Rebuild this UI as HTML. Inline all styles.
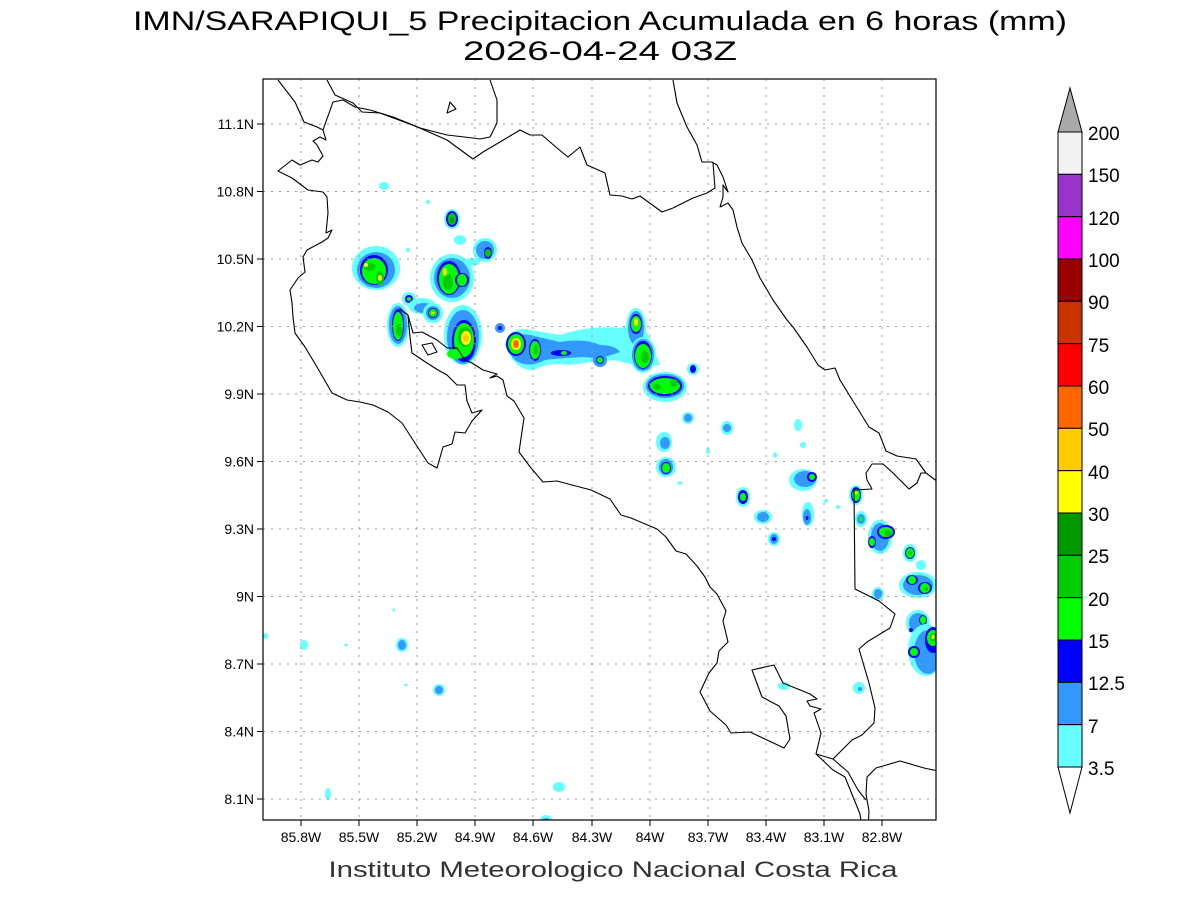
<!DOCTYPE html>
<html><head><meta charset="utf-8"><style>
html,body{margin:0;padding:0;background:#fff;}
svg{display:block;font-family:"Liberation Sans",sans-serif;}
</style></head><body>
<svg width="1200" height="900" viewBox="0 0 1200 900" xmlns="http://www.w3.org/2000/svg">
<rect width="1200" height="900" fill="#fff"/>
<text x="600" y="30" font-size="27" text-anchor="middle" textLength="934" lengthAdjust="spacingAndGlyphs">IMN/SARAPIQUI_5 Precipitacion Acumulada en 6 horas (mm)</text>
<text x="600" y="60" font-size="27" text-anchor="middle" textLength="274" lengthAdjust="spacingAndGlyphs">2026-04-24 03Z</text>
<defs><clipPath id="c"><rect x="263" y="79" width="673" height="741"/></clipPath></defs>
<g clip-path="url(#c)">
<!-- precipitation -->
<g>
<!-- cluster 1 -->
<ellipse cx="376" cy="268" rx="24" ry="22" fill="#66ffff"/>
<ellipse cx="376" cy="270" rx="19" ry="18" fill="#3399ff"/>
<ellipse cx="374" cy="270" rx="14" ry="15" fill="#0000ff"/>
<ellipse cx="374" cy="271" rx="12" ry="13" fill="#00ff00"/>
<ellipse cx="370" cy="267" rx="6" ry="4" fill="#00cc00"/>
<ellipse cx="380" cy="278" rx="4" ry="7" fill="#00cc00"/>
<ellipse cx="366" cy="265" rx="2" ry="2" fill="#ffff00"/>
<ellipse cx="380" cy="278" rx="2" ry="3" fill="#ffff00"/>
<ellipse cx="384" cy="186" rx="5" ry="4" fill="#66ffff"/>
<ellipse cx="428" cy="202" rx="2" ry="2" fill="#66ffff"/>
<ellipse cx="452" cy="219" rx="8" ry="10" fill="#66ffff"/><ellipse cx="452" cy="219" rx="6" ry="8" fill="#0000ff"/><ellipse cx="452" cy="219" rx="4" ry="6" fill="#00cc00"/><ellipse cx="452" cy="220" rx="2" ry="3" fill="#009900"/>
<ellipse cx="460" cy="240" rx="6" ry="5" fill="#66ffff"/>
<ellipse cx="408" cy="250" rx="2" ry="2" fill="#66ffff"/>
<ellipse cx="485" cy="250" rx="12" ry="12" fill="#66ffff"/><ellipse cx="485" cy="250" rx="9" ry="9" fill="#3399ff"/><ellipse cx="488" cy="253" rx="4" ry="6" fill="#0000ff"/><ellipse cx="488" cy="253" rx="3" ry="4" fill="#00cc00"/>
<ellipse cx="472" cy="262" rx="8" ry="4" fill="#66ffff"/>
<!-- cluster 8 -->
<ellipse cx="452" cy="278" rx="22" ry="24" fill="#66ffff"/>
<ellipse cx="452" cy="278" rx="18" ry="20" fill="#3399ff"/>
<ellipse cx="449" cy="278" rx="12" ry="17" fill="#0000ff"/>
<ellipse cx="449" cy="279" rx="10" ry="15" fill="#00ff00"/>
<ellipse cx="462" cy="280" rx="7" ry="7" fill="#0000ff"/><ellipse cx="462" cy="280" rx="5" ry="6" fill="#00ff00"/>
<ellipse cx="448" cy="282" rx="5" ry="8" fill="#00cc00"/>
<ellipse cx="445" cy="272" rx="2" ry="4" fill="#ffff00"/>
<ellipse cx="409" cy="299" rx="7" ry="7" fill="#66ffff"/><ellipse cx="409" cy="299" rx="4" ry="4" fill="#0000ff"/><ellipse cx="409" cy="299" rx="2" ry="2" fill="#00ff00"/>
<ellipse cx="422" cy="306" rx="14" ry="8" fill="#66ffff"/><ellipse cx="424" cy="308" rx="10" ry="5" fill="#3399ff"/>
<ellipse cx="433" cy="313" rx="10" ry="10" fill="#66ffff"/><ellipse cx="433" cy="313" rx="7" ry="7" fill="#3399ff"/><ellipse cx="433" cy="313" rx="5" ry="5" fill="#0000ff"/><ellipse cx="433" cy="313" rx="4" ry="4" fill="#00ff00"/><ellipse cx="433" cy="313" rx="1.5" ry="1.5" fill="#ffff00"/>
<ellipse cx="398" cy="325" rx="11" ry="22" fill="#66ffff"/><ellipse cx="398" cy="325" rx="9" ry="19" fill="#3399ff"/><ellipse cx="398" cy="325" rx="6" ry="16" fill="#0000ff"/><ellipse cx="398" cy="326" rx="5" ry="14" fill="#00ff00"/><ellipse cx="399" cy="330" rx="3" ry="6" fill="#00cc00"/>
<!-- cluster 12 -->
<ellipse cx="463" cy="335" rx="19" ry="30" fill="#66ffff"/>
<ellipse cx="463" cy="337" rx="16" ry="27" fill="#3399ff"/>
<ellipse cx="464" cy="341" rx="12" ry="21" fill="#0000ff"/>
<ellipse cx="464" cy="340" rx="10" ry="17" fill="#00ff00"/>
<ellipse cx="456" cy="354" rx="9" ry="5" fill="#00ff00"/>
<ellipse cx="465" cy="337" rx="7" ry="10" fill="#00cc00"/>
<ellipse cx="466" cy="338" rx="5" ry="7" fill="#ffff00"/>
<ellipse cx="466" cy="338" rx="3" ry="4" fill="#ffcc00"/>
<ellipse cx="500" cy="328" rx="5" ry="5" fill="#3399ff"/><ellipse cx="500" cy="328" rx="2" ry="2" fill="#0000ff"/>
<!-- central band -->
<path d="M505 345 Q510 325 530 330 L560 335 Q590 325 620 328 Q645 320 650 340 L660 365 Q640 368 615 360 Q590 362 570 365 Q545 362 535 370 Q515 372 505 345Z" fill="#66ffff"/>
<path d="M510 345 Q515 332 530 335 L560 342 Q585 338 600 345 Q615 345 620 352 Q600 360 585 357 Q560 358 545 360 Q530 368 518 362 Q508 356 510 345Z" fill="#3399ff"/>
<ellipse cx="516" cy="344" rx="10" ry="12" fill="#0000ff"/><ellipse cx="516" cy="344" rx="8" ry="10" fill="#00ff00"/><ellipse cx="516" cy="344" rx="5" ry="6" fill="#ffff00"/><ellipse cx="516" cy="344" rx="3" ry="4" fill="#ff6600"/>
<ellipse cx="535" cy="350" rx="6" ry="11" fill="#0000ff"/><ellipse cx="535" cy="350" rx="5" ry="9" fill="#00ff00"/><ellipse cx="536" cy="350" rx="2" ry="5" fill="#00cc00"/>
<ellipse cx="561" cy="353" rx="10" ry="3" fill="#0000ff"/><ellipse cx="564" cy="353" rx="3" ry="2" fill="#00ff00"/>
<ellipse cx="600" cy="360" rx="7" ry="7" fill="#3399ff"/><ellipse cx="600" cy="360" rx="4" ry="4" fill="#0000ff"/><ellipse cx="600" cy="360" rx="3" ry="3" fill="#00ff00"/>
<ellipse cx="636" cy="328" rx="10" ry="20" fill="#66ffff"/><ellipse cx="636" cy="328" rx="8" ry="17" fill="#3399ff"/><ellipse cx="636" cy="324" rx="6" ry="10" fill="#0000ff"/><ellipse cx="636" cy="324" rx="5" ry="8" fill="#00ff00"/><ellipse cx="636" cy="322" rx="2" ry="4" fill="#ffff00"/>
<ellipse cx="643" cy="355" rx="13" ry="18" fill="#66ffff"/><ellipse cx="643" cy="355" rx="11" ry="16" fill="#3399ff"/><ellipse cx="643" cy="355" rx="9" ry="14" fill="#0000ff"/><ellipse cx="643" cy="356" rx="8" ry="12" fill="#00ff00"/><ellipse cx="645" cy="357" rx="4" ry="6" fill="#00cc00"/>
<ellipse cx="665" cy="387" rx="22" ry="15" fill="#66ffff"/><ellipse cx="665" cy="386" rx="19" ry="12" fill="#3399ff"/><ellipse cx="665" cy="386" rx="17" ry="10" fill="#0000ff"/><ellipse cx="665" cy="386" rx="15" ry="8" fill="#00ff00"/><ellipse cx="657" cy="387" rx="4" ry="3" fill="#00cc00"/><ellipse cx="674" cy="383" rx="4" ry="4" fill="#00cc00"/>
<ellipse cx="693" cy="369" rx="6" ry="6" fill="#66ffff"/><ellipse cx="693" cy="369" rx="3" ry="4" fill="#0000ff"/>
<ellipse cx="688" cy="418" rx="6" ry="6" fill="#66ffff"/><ellipse cx="688" cy="418" rx="4" ry="4" fill="#3399ff"/>
<ellipse cx="727" cy="428" rx="6" ry="7" fill="#66ffff"/><ellipse cx="727" cy="428" rx="4" ry="4" fill="#3399ff"/>
<ellipse cx="664" cy="442" rx="8" ry="10" fill="#66ffff"/><ellipse cx="665" cy="443" rx="5" ry="6" fill="#3399ff"/>
<ellipse cx="666" cy="467" rx="10" ry="10" fill="#66ffff"/><ellipse cx="666" cy="467" rx="7" ry="8" fill="#3399ff"/><ellipse cx="666" cy="468" rx="5" ry="6" fill="#0000ff"/><ellipse cx="666" cy="468" rx="4" ry="5" fill="#00ff00"/>
<ellipse cx="708" cy="451" rx="2" ry="3" fill="#66ffff"/>
<ellipse cx="680" cy="483" rx="2" ry="2" fill="#66ffff"/>
<ellipse cx="743" cy="497" rx="7" ry="10" fill="#66ffff"/><ellipse cx="743" cy="497" rx="5" ry="7" fill="#0000ff"/><ellipse cx="743" cy="497" rx="3" ry="4" fill="#00ff00"/>
<ellipse cx="798" cy="425" rx="4" ry="6" fill="#66ffff"/>
<ellipse cx="803" cy="445" rx="3" ry="3" fill="#66ffff"/>
<ellipse cx="803" cy="480" rx="14" ry="11" fill="#66ffff"/><ellipse cx="805" cy="479" rx="11" ry="8" fill="#3399ff"/><ellipse cx="812" cy="477" rx="5" ry="5" fill="#0000ff"/><ellipse cx="812" cy="477" rx="3" ry="3" fill="#00ff00"/>
<ellipse cx="763" cy="517" rx="9" ry="7" fill="#66ffff"/><ellipse cx="763" cy="517" rx="6" ry="5" fill="#3399ff"/>
<ellipse cx="774" cy="539" rx="6" ry="7" fill="#66ffff"/><ellipse cx="774" cy="539" rx="4" ry="5" fill="#3399ff"/><ellipse cx="774" cy="539" rx="2" ry="2" fill="#0000ff"/>
<ellipse cx="808" cy="514" rx="6" ry="12" fill="#66ffff"/><ellipse cx="807" cy="517" rx="4" ry="8" fill="#3399ff"/><ellipse cx="807" cy="518" rx="1.5" ry="2" fill="#0000ff"/>
<ellipse cx="775" cy="455" rx="2" ry="3" fill="#66ffff"/>
<ellipse cx="826" cy="501" rx="2" ry="2" fill="#66ffff"/>
<ellipse cx="838" cy="507" rx="2" ry="2" fill="#66ffff"/>
<ellipse cx="856" cy="495" rx="7" ry="10" fill="#66ffff"/><ellipse cx="856" cy="495" rx="5" ry="8" fill="#0000ff"/><ellipse cx="856" cy="495" rx="4" ry="6" fill="#00ff00"/><ellipse cx="856" cy="493" rx="1.5" ry="1.5" fill="#ffff00"/>
<ellipse cx="861" cy="519" rx="6" ry="8" fill="#66ffff"/><ellipse cx="861" cy="519" rx="4" ry="5" fill="#3399ff"/><ellipse cx="861" cy="519" rx="2" ry="2" fill="#00ff00"/>
<ellipse cx="880" cy="537" rx="12" ry="17" fill="#66ffff"/><ellipse cx="880" cy="537" rx="9" ry="14" fill="#3399ff"/>
<ellipse cx="886" cy="532" rx="9" ry="7" fill="#0000ff"/><ellipse cx="886" cy="532" rx="7" ry="5" fill="#00ff00"/><ellipse cx="888" cy="533" rx="4" ry="3" fill="#00cc00"/>
<ellipse cx="872" cy="542" rx="4" ry="6" fill="#0000ff"/><ellipse cx="872" cy="542" rx="3" ry="4" fill="#00ff00"/>
<ellipse cx="910" cy="553" rx="7" ry="9" fill="#66ffff"/><ellipse cx="910" cy="553" rx="5" ry="6" fill="#0000ff"/><ellipse cx="910" cy="553" rx="4" ry="5" fill="#00ff00"/><ellipse cx="910" cy="553" rx="2" ry="2" fill="#00cc00"/>
<ellipse cx="921" cy="565" rx="5" ry="5" fill="#66ffff"/>
<ellipse cx="918" cy="585" rx="19" ry="13" fill="#66ffff"/><ellipse cx="918" cy="585" rx="15" ry="10" fill="#3399ff"/><ellipse cx="912" cy="580" rx="6" ry="5" fill="#0000ff"/><ellipse cx="912" cy="580" rx="4" ry="4" fill="#00ff00"/><ellipse cx="925" cy="588" rx="7" ry="6" fill="#0000ff"/><ellipse cx="925" cy="588" rx="5" ry="5" fill="#00ff00"/><ellipse cx="926" cy="589" rx="2" ry="2" fill="#00cc00"/>
<ellipse cx="878" cy="594" rx="6" ry="7" fill="#66ffff"/><ellipse cx="878" cy="594" rx="4" ry="5" fill="#3399ff"/>
<ellipse cx="918" cy="623" rx="12" ry="13" fill="#66ffff"/><ellipse cx="918" cy="623" rx="9" ry="10" fill="#3399ff"/><ellipse cx="923" cy="620" rx="4" ry="5" fill="#0000ff"/><ellipse cx="923" cy="620" rx="3" ry="4" fill="#00ff00"/><ellipse cx="911" cy="630" rx="2" ry="2" fill="#0000ff"/>
<ellipse cx="926" cy="650" rx="18" ry="26" fill="#66ffff"/><ellipse cx="928" cy="652" rx="14" ry="22" fill="#3399ff"/>
<ellipse cx="933" cy="640" rx="8" ry="13" fill="#0000ff"/><ellipse cx="933" cy="638" rx="6" ry="8" fill="#00ff00"/><ellipse cx="933" cy="637" rx="3" ry="4" fill="#00cc00"/><ellipse cx="933" cy="637" rx="1.5" ry="2" fill="#ffff00"/>
<ellipse cx="914" cy="652" rx="6" ry="6" fill="#0000ff"/><ellipse cx="914" cy="652" rx="4" ry="4" fill="#00ff00"/>
<ellipse cx="859" cy="688" rx="6" ry="6" fill="#66ffff"/><ellipse cx="860" cy="689" rx="2" ry="2" fill="#3399ff"/>
<ellipse cx="784" cy="686" rx="6" ry="4" fill="#66ffff"/>
<ellipse cx="402" cy="645" rx="6" ry="7" fill="#66ffff"/><ellipse cx="402" cy="645" rx="4" ry="5" fill="#3399ff"/>
<ellipse cx="439" cy="690" rx="6" ry="6" fill="#66ffff"/><ellipse cx="439" cy="690" rx="4" ry="4" fill="#3399ff"/>
<ellipse cx="304" cy="645" rx="4" ry="5" fill="#66ffff"/>
<ellipse cx="265" cy="636" rx="3" ry="3" fill="#66ffff"/>
<ellipse cx="328" cy="794" rx="3" ry="6" fill="#66ffff"/>
<ellipse cx="559" cy="787" rx="6" ry="5" fill="#66ffff"/>
<ellipse cx="546" cy="820" rx="6" ry="5" fill="#66ffff"/><ellipse cx="546" cy="821" rx="4" ry="3" fill="#3399ff"/>
<ellipse cx="394" cy="610" rx="1.5" ry="1.5" fill="#66ffff"/>
<ellipse cx="346" cy="645" rx="1.5" ry="1.5" fill="#66ffff"/>
<ellipse cx="406" cy="685" rx="1.5" ry="1.5" fill="#66ffff"/>
</g>
<!-- grid -->
<g stroke="#999" stroke-width="1" stroke-dasharray="2,6">
<line x1="301" y1="79" x2="301" y2="820"/><line x1="359" y1="79" x2="359" y2="820"/><line x1="417" y1="79" x2="417" y2="820"/><line x1="475" y1="79" x2="475" y2="820"/><line x1="533" y1="79" x2="533" y2="820"/><line x1="592" y1="79" x2="592" y2="820"/><line x1="650" y1="79" x2="650" y2="820"/><line x1="708" y1="79" x2="708" y2="820"/><line x1="766" y1="79" x2="766" y2="820"/><line x1="824" y1="79" x2="824" y2="820"/><line x1="882" y1="79" x2="882" y2="820"/>
<line x1="263" y1="124" x2="936" y2="124"/><line x1="263" y1="191.5" x2="936" y2="191.5"/><line x1="263" y1="259" x2="936" y2="259"/><line x1="263" y1="326.5" x2="936" y2="326.5"/><line x1="263" y1="394" x2="936" y2="394"/><line x1="263" y1="461.5" x2="936" y2="461.5"/><line x1="263" y1="529" x2="936" y2="529"/><line x1="263" y1="596.5" x2="936" y2="596.5"/><line x1="263" y1="664" x2="936" y2="664"/><line x1="263" y1="731.5" x2="936" y2="731.5"/><line x1="263" y1="799" x2="936" y2="799"/>
</g>
<!-- coastlines -->
<g fill="none" stroke="#000" stroke-width="1.1" stroke-linejoin="round">
<polyline points="278,80 295,102 304,122 317,127 323,130 326,140 320,137 313,141 317,145 323,156 318,162 312,160 300,165 292,160 278,171 292,178 308,190 323,192 327,197 328,213 326,233 332,230 328,238 322,242 307,250 303,257 305,272 298,278 290,290 292,303 293,317 295,333 305,347 317,367 332,393 347,400 360,402 373,405 388,412 402,423 413,440 428,463 437,468 443,447 452,444 455,432 465,433 472,421 482,410 472,413 467,401 465,385 457,385 447,375 438,370 427,363 412,353 410,337 408,315 400,309 408,315 413,333 422,332 437,340 447,348 457,348 465,360 472,363 483,370 497,374 490,378 497,376 503,380 507,396 514,401 524,418 519,452 531,468 543,482 557,481 572,485 591,490 610,499 621,515 631,518 657,529 666,537 676,551 686,554 697,566 705,577 710,587 717,594 726,611 723,621 728,642 719,651 717,663 709,673 700,692 710,711 726,725 731,733 750,732 784,748 790,739 786,716 779,706 762,697 752,670 774,665 783,683 810,694 817,699 807,701 810,706 821,709 814,713 821,733 816,754 833,770 845,777 860,814 862,828 868,828 869,811 866,794 867,777 876,768 900,761 924,768 938,771"/>
<polyline points="816,754 833,759 848,772 858,790 866,800"/>
<polygon points="422,345 432,343 437,352 428,355"/>
<polyline points="323,130 333,102 343,100 355,107 370,110 393,117 413,125 447,140 473,159 483,152 500,142 520,130 530,135 542,135 557,148 568,157 580,147 587,165 605,173 610,195 622,196 632,199 640,196 662,212 673,208 693,198 707,193 715,188 713,163 712,162"/>
<polyline points="327,80 335,95 353,103 362,112 380,113 407,123 420,128 447,135 473,138 480,139 490,137 497,123 497,100 490,80"/>
<polygon points="447,113 450,102 456,109"/>
<polyline points="673,80 677,103 687,127 697,145 702,162 712,162 717,165 723,177 728,192 723,185 723,197 720,207 728,203 733,210 737,227 742,243 752,260 760,278 773,300 787,320 793,327 807,347 818,365 825,370 835,368 840,380 869,427 879,433 886,451 897,456 916,459 926,473 938,482"/>
<polyline points="833,759 852,740 862,735 874,723 875,708 869,683 859,649 867,642 890,628 895,614 879,601 855,589 854,490 872,489 867,480 866,473 872,464 883,464 893,473 909,489 917,483 921,473 926,473"/>
</g>
</g>
<rect x="263" y="79" width="673" height="741" fill="none" stroke="#000" stroke-width="1.2"/>
<!-- ticks -->
<g stroke="#000" stroke-width="1">
<line x1="301" y1="820" x2="301" y2="826"/><line x1="359" y1="820" x2="359" y2="826"/><line x1="417" y1="820" x2="417" y2="826"/><line x1="475" y1="820" x2="475" y2="826"/><line x1="533" y1="820" x2="533" y2="826"/><line x1="592" y1="820" x2="592" y2="826"/><line x1="650" y1="820" x2="650" y2="826"/><line x1="708" y1="820" x2="708" y2="826"/><line x1="766" y1="820" x2="766" y2="826"/><line x1="824" y1="820" x2="824" y2="826"/><line x1="882" y1="820" x2="882" y2="826"/>
<line x1="257" y1="124" x2="263" y2="124"/><line x1="257" y1="191.5" x2="263" y2="191.5"/><line x1="257" y1="259" x2="263" y2="259"/><line x1="257" y1="326.5" x2="263" y2="326.5"/><line x1="257" y1="394" x2="263" y2="394"/><line x1="257" y1="461.5" x2="263" y2="461.5"/><line x1="257" y1="529" x2="263" y2="529"/><line x1="257" y1="596.5" x2="263" y2="596.5"/><line x1="257" y1="664" x2="263" y2="664"/><line x1="257" y1="731.5" x2="263" y2="731.5"/><line x1="257" y1="799" x2="263" y2="799"/>
</g>
<g font-size="14" text-anchor="middle">
<text x="301" y="842">85.8W</text><text x="359" y="842">85.5W</text><text x="417" y="842">85.2W</text><text x="475" y="842">84.9W</text><text x="533" y="842">84.6W</text><text x="592" y="842">84.3W</text><text x="650" y="842">84W</text><text x="708" y="842">83.7W</text><text x="766" y="842">83.4W</text><text x="824" y="842">83.1W</text><text x="882" y="842">82.8W</text>
</g>
<g font-size="14" text-anchor="end">
<text x="254" y="129">11.1N</text><text x="254" y="196.5">10.8N</text><text x="254" y="264">10.5N</text><text x="254" y="331.5">10.2N</text><text x="254" y="399">9.9N</text><text x="254" y="466.5">9.6N</text><text x="254" y="534">9.3N</text><text x="254" y="601.5">9N</text><text x="254" y="669">8.7N</text><text x="254" y="736.5">8.4N</text><text x="254" y="804">8.1N</text>
</g>
<text x="613" y="877" font-size="22" fill="#333" text-anchor="middle" textLength="569" lengthAdjust="spacingAndGlyphs">Instituto Meteorologico Nacional Costa Rica</text>
<!-- colorbar -->
<g stroke="#000" stroke-width="1">
<polygon points="1058,132 1070,88 1082,132" fill="#aaaaaa"/>
<rect x="1058" y="132" width="24" height="42.33" fill="#f2f2f2"/>
<rect x="1058" y="174.33" width="24" height="42.33" fill="#9933cc"/>
<rect x="1058" y="216.67" width="24" height="42.33" fill="#ff00ff"/>
<rect x="1058" y="259" width="24" height="42.33" fill="#990000"/>
<rect x="1058" y="301.33" width="24" height="42.33" fill="#cc3300"/>
<rect x="1058" y="343.67" width="24" height="42.33" fill="#ff0000"/>
<rect x="1058" y="386" width="24" height="42.33" fill="#ff6600"/>
<rect x="1058" y="428.33" width="24" height="42.33" fill="#ffcc00"/>
<rect x="1058" y="470.67" width="24" height="42.33" fill="#ffff00"/>
<rect x="1058" y="513" width="24" height="42.33" fill="#009900"/>
<rect x="1058" y="555.33" width="24" height="42.33" fill="#00cc00"/>
<rect x="1058" y="597.67" width="24" height="42.33" fill="#00ff00"/>
<rect x="1058" y="640" width="24" height="42.33" fill="#0000ff"/>
<rect x="1058" y="682.33" width="24" height="42.33" fill="#3399ff"/>
<rect x="1058" y="724.67" width="24" height="42.33" fill="#66ffff"/>
<polygon points="1058,767 1070,813 1082,767" fill="#fff"/>
</g>
<g font-size="19">
<text x="1088" y="140">200</text><text x="1088" y="182">150</text><text x="1088" y="225">120</text><text x="1088" y="267">100</text><text x="1088" y="309">90</text><text x="1088" y="352">75</text><text x="1088" y="394">60</text><text x="1088" y="436">50</text><text x="1088" y="479">40</text><text x="1088" y="521">30</text><text x="1088" y="563">25</text><text x="1088" y="606">20</text><text x="1088" y="648">15</text><text x="1088" y="690">12.5</text><text x="1088" y="733">7</text><text x="1088" y="775">3.5</text>
</g>
</svg>
</body></html>
